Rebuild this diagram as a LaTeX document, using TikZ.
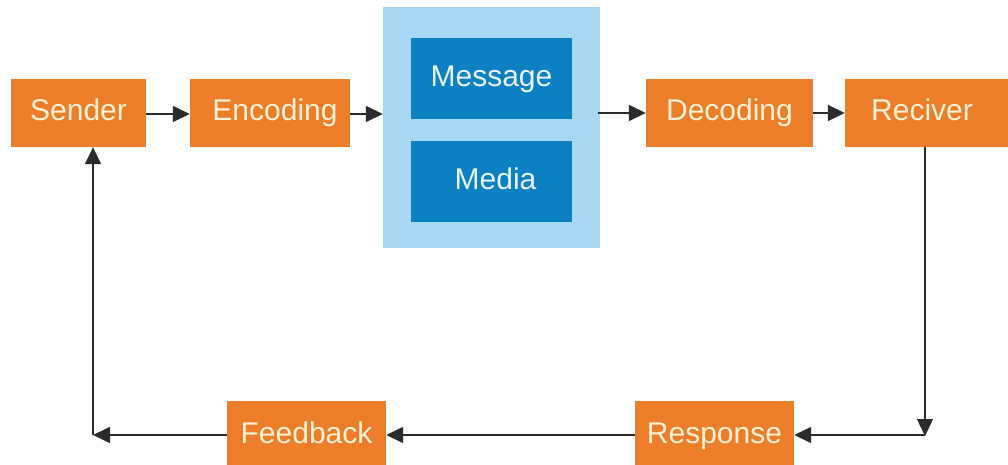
\documentclass[tikz,border=0pt]{standalone}
\usepackage{fontspec}
\setmainfont{Liberation Sans}
\usetikzlibrary{arrows.meta}
\definecolor{orangebox}{HTML}{EC7E2A}
\definecolor{orangetext}{HTML}{FFF1D6}
\definecolor{bluebox}{HTML}{0B80C2}
\definecolor{bluetext}{HTML}{EAF5FF}
\definecolor{bluebg}{HTML}{A8D7F3}
\definecolor{arrowgrey}{HTML}{2B2B2B}
\tikzset{
  txt/.style={font=\fontsize{30}{35}\selectfont, text height=22pt, text depth=6pt, inner sep=0pt},
  obox/.style={txt, draw=none, fill=orangebox, text=orangetext, minimum height=68pt},
  bbox/.style={txt, draw=none, fill=bluebox, text=bluetext, minimum width=161pt, minimum height=81pt},
  conn/.style={draw=arrowgrey, line width=1.5pt, -{Triangle[length=17pt,width=16pt]}}
}
\begin{document}
\begin{tikzpicture}[x=1pt,y=-1pt]
\useasboundingbox[fill=white] (0,0) rectangle (1008,465);
\node[fill=bluebg, inner sep=0pt, minimum width=217pt, minimum height=241pt] (channel) at (491.5,127.5) {};
\node[bbox] (message) at (491.5,78.5) {Message};
\node[bbox] (media) at (491.5,181.5) {\hspace*{8pt}Media};
\node[obox, minimum width=135pt] (sender) at (78.5,113) {Sender};
\node[obox, minimum width=160pt] (encoding) at (270,113) {\hspace*{10pt}Encoding};
\node[obox, minimum width=167pt] (decoding) at (729.5,113) {Decoding};
\node[obox, minimum width=154pt] (reciver) at (922,113) {Reciver};
\fill[orangebox] (reciver.north east) rectangle ([xshift=12pt]reciver.south east);
\node[obox, minimum width=159pt, minimum height=69pt] (response) at (714.5,435.5) {Response};
\node[obox, minimum width=159pt, minimum height=69pt] (feedback) at (306.5,435.5) {Feedback};
\coordinate (cR) at (925,435);
\coordinate (cL) at (93,435);
\draw[conn] ([yshift=-1pt]sender.east) -- ([yshift=-1pt]encoding.west);
\draw[conn] ([yshift=-1pt]encoding.east) -- ([yshift=-1pt]channel.west |- encoding.east);
\draw[conn] ([xshift=-2pt]channel.east |- decoding.east) -- (decoding.west);
\draw[conn] (decoding.east) -- (reciver.west);
\draw[conn] (cR |- reciver.south) -- ([yshift=-1pt]cR);
\draw[conn] (cR) -- (response.east |- cR);
\draw[conn] (response.west |- cR) -- (feedback.east |- cR);
\draw[conn] (feedback.west |- cL) -- (cL);
\draw[conn] (cL) -- (cL |- sender.south);
\end{tikzpicture}
\end{document}
